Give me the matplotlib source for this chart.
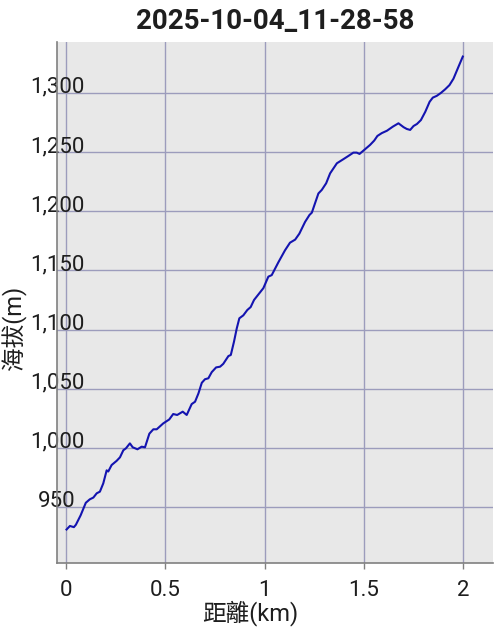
import matplotlib
matplotlib.use("Agg")
import matplotlib.pyplot as plt
from matplotlib.ticker import FuncFormatter

plt.rcParams['font.family'] = ['Roboto', 'Noto Sans CJK TC', 'DejaVu Sans']

title = "2025-10-04_11-28-58"
xlabel = "距離(km)"
ylabel = "海拔(m)"

dist_km = [0.003, 0.02, 0.04, 0.05, 0.074, 0.10, 0.12, 0.138, 0.155, 0.171, 0.188, 0.205,
           0.213, 0.23, 0.255, 0.272, 0.289, 0.302, 0.322, 0.336, 0.36, 0.381, 0.398, 0.42,
           0.44, 0.457, 0.49, 0.52, 0.54, 0.56, 0.588, 0.608, 0.633, 0.65, 0.667, 0.684,
           0.70, 0.717, 0.734, 0.756, 0.776, 0.792, 0.818, 0.83, 0.846, 0.86, 0.873, 0.893,
           0.913, 0.93, 0.947, 0.994, 1.019, 1.036, 1.07, 1.103, 1.128, 1.154, 1.175, 1.204,
           1.226, 1.238, 1.254, 1.271, 1.288, 1.31, 1.33, 1.364, 1.397, 1.422, 1.447, 1.464,
           1.478, 1.506, 1.531, 1.552, 1.568, 1.59, 1.616, 1.646, 1.674, 1.70, 1.716, 1.733,
           1.75, 1.767, 1.787, 1.809, 1.831, 1.847, 1.867, 1.888, 1.909, 1.931, 1.951, 1.976,
           1.998]
elev_m = [931, 934, 933, 935, 943, 953.6, 956.5, 958, 961.6, 963, 970, 981,
          980, 985.5, 989, 992, 998, 999.6, 1003.8, 1000.5, 998.8, 1001, 1000.5, 1012,
          1015.7, 1015.7, 1020.7, 1024, 1028.6, 1027.8, 1030.6, 1027.8, 1037, 1039, 1046, 1055,
          1058, 1058.8, 1064, 1068, 1068.6, 1071, 1077.6, 1078.5, 1089.7, 1101, 1109.5, 1112,
          1116.5, 1119, 1125, 1135, 1144.7, 1146, 1157, 1167, 1173.4, 1176, 1181, 1191,
          1196.8, 1198.8, 1206.7, 1215, 1218, 1223.6, 1232, 1240.5, 1244, 1246.7, 1249.5, 1249.5,
          1248.4, 1252.4, 1256, 1259.7, 1263.6, 1266, 1268, 1271.5, 1274.3, 1271, 1269.5, 1268.7,
          1272, 1273.7, 1277, 1284, 1292.5, 1296, 1297.5, 1300, 1303, 1306.6, 1312, 1322,
          1330.7]

xticks = [0, 0.5, 1, 1.5, 2]
xtick_labels = ["0", "0.5", "1", "1.5", "2"]
yticks = [950, 1000, 1050, 1100, 1150, 1200, 1250, 1300]

fig = plt.figure(figsize=(5.0, 6.27), dpi=100)
ax = fig.add_axes([57/500, 1 - 563/627, 436/500, 521/627])
ax.set_facecolor('#e8e8e8')

ax.plot(dist_km, elev_m, color='#1414b0', lw=1.5, zorder=3)

ax.set_xlim(-0.045, 2.15)
ax.set_ylim(902.7, 1343)

ax.set_xticks(xticks)
ax.set_xticklabels(xtick_labels)
ax.set_yticks(yticks)
ax.yaxis.set_major_formatter(FuncFormatter(lambda v, p: f"{int(v):,}"))

ax.grid(True, color='#9c9cbc', lw=1.0, zorder=1)
ax.set_axisbelow(True)

for s in ['top', 'right']:
    ax.spines[s].set_visible(False)
for s in ['left', 'bottom']:
    ax.spines[s].set_color('#808080')
    ax.spines[s].set_linewidth(1.2)

ax.tick_params(axis='x', length=4, width=1, color='#808080', pad=8, labelsize=16, labelcolor='#1e1e1e')
ax.tick_params(axis='y', length=0, pad=0, labelsize=16, labelcolor='#1e1e1e')
for lab in ax.get_yticklabels():
    lab.set_ha('center')
    lab.set_va('baseline')

ax.set_title(title, fontsize=20, fontweight='bold', color='#1e1e1e', pad=9)
ax.set_xlabel(xlabel, fontsize=17, color='#1e1e1e', labelpad=0)
ax.xaxis.set_label_coords((250 - 57) / 436, -0.072, transform=ax.transAxes)
ax.set_ylabel(ylabel, fontsize=17, color='#1e1e1e')
ax.yaxis.set_label_coords((27 - 57) / 436, (563 - 328) / 521, transform=ax.transAxes)

fig.savefig("out.png", dpi=100)
